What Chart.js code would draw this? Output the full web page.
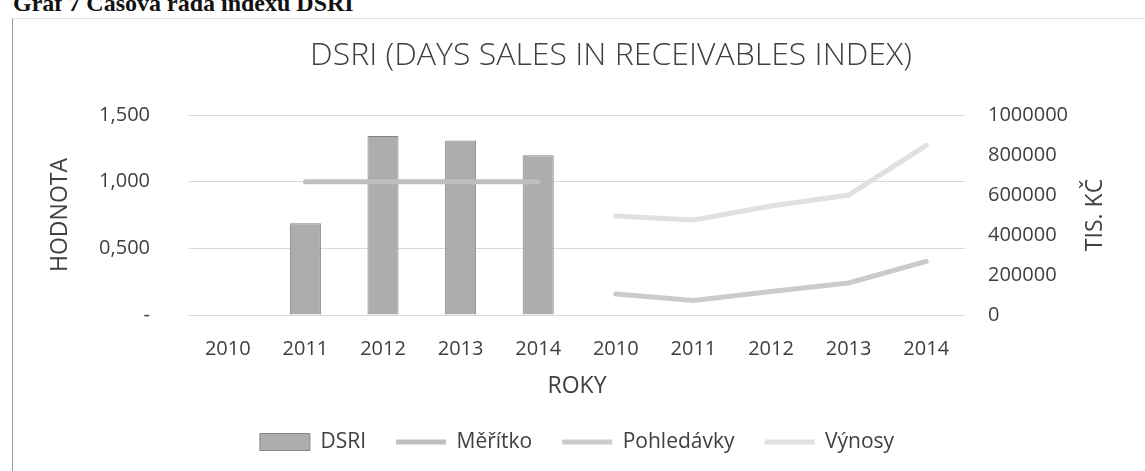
<!DOCTYPE html>
<html>
<head>
<meta charset="utf-8">
<script src="https://cdn.jsdelivr.net/npm/chart.js@4/dist/chart.umd.min.js"></script>
<style>
  html, body { margin: 0; padding: 0; background: #fff; overflow: hidden; }
  #wrap { position: relative; width: 1145px; height: 471px; }
  #head { position: absolute; left: 13px; top: -9px; font: bold 24px "Liberation Serif", serif; line-height: 24px; color: #111; white-space: nowrap; }
  #frameL { position: absolute; left: 12px; top: 18px; width: 1px; height: 460px; background: #9a9a9a; }
  #frameT { position: absolute; left: 12px; top: 18px; width: 1140px; height: 1px; background: #e2e2e2; }
  #c { position: absolute; left: 0; top: 0; }
</style>
</head>
<body>
<div id="wrap">
  <div id="head">Graf 7 Časová řada indexu DSRI</div>
  <div id="frameT"></div>
  <div id="frameL"></div>
  <canvas id="c" width="1145" height="471"></canvas>
</div>
<script>
const years = ["2010", "2011", "2012", "2013", "2014"];
const categories = years.concat(years);

// first block of years (left axis)
const dsri = [null, 0.689, 1.343, 1.309, 1.198];
const meritko = [null, 1, 1, 1, 1];

// second block of years (right axis, tis. Kč)
const pohledavky = [105000, 72000, 118000, 160000, 268000];
const vynosy = [495000, 475000, 545000, 600000, 848000];

const leftTickLabels = ["-", "0,500", "1,000", "1,500"];
const rightTickLabels = ["0", "200000", "400000", "600000", "800000", "1000000"];
const rightAxisTitle = "TIS. KČ";

const empty = years.map(() => null);

Chart.defaults.font.family = "'Open Sans', sans-serif";
Chart.defaults.color = "#404040";

// right axis title reads bottom-to-top like the left one
const rightTitle = {
  id: "rightTitle",
  afterDraw(chart) {
    const { ctx, chartArea } = chart;
    ctx.save();
    ctx.translate(1095, (chartArea.top + chartArea.bottom) / 2);
    ctx.rotate(-Math.PI / 2);
    ctx.font = "23px 'Open Sans', sans-serif";
    ctx.fillStyle = "#404040";
    ctx.textAlign = "center";
    ctx.textBaseline = "middle";
    ctx.fillText(rightAxisTitle, 0, 0);
    ctx.restore();
  }
};

new Chart(document.getElementById("c"), {
  data: {
    labels: categories,
    datasets: [
      {
        type: "bar",
        label: "DSRI",
        data: dsri.concat(empty),
        yAxisID: "y",
        backgroundColor: "#adadad",
        borderColor: "#858585",
        borderWidth: 1,
        barPercentage: 0.4,
        categoryPercentage: 1,
        pointStyle: "rect",
        order: 1
      },
      {
        type: "line",
        label: "Měřítko",
        data: meritko.concat(empty),
        yAxisID: "y",
        borderColor: "#bfbfbf",
        borderWidth: 5,
        borderCapStyle: "round",
        pointRadius: 0,
        pointStyle: "line",
        pointBorderColor: "#bfbfbf",
        pointBorderWidth: 5,
        order: 0
      },
      {
        type: "line",
        label: "Pohledávky",
        data: empty.concat(pohledavky),
        yAxisID: "y1",
        borderColor: "#cbcbcb",
        borderWidth: 5,
        borderCapStyle: "round",
        pointRadius: 0,
        pointStyle: "line",
        pointBorderColor: "#cbcbcb",
        pointBorderWidth: 5,
        order: 0
      },
      {
        type: "line",
        label: "Výnosy",
        data: empty.concat(vynosy),
        yAxisID: "y1",
        borderColor: "#e0e0e0",
        borderWidth: 5,
        borderCapStyle: "round",
        pointRadius: 0,
        pointStyle: "line",
        pointBorderColor: "#e0e0e0",
        pointBorderWidth: 5,
        order: 0
      }
    ]
  },
  options: {
    responsive: false,
    animation: false,
    layout: { padding: { left: 77, right: 0, top: 0, bottom: 8.5 } },
    plugins: {
      title: {
        display: true,
        text: "DSRI (DAYS SALES IN RECEIVABLES INDEX)",
        color: "#404040",
        font: { size: 32, weight: "300" },
        padding: { top: 36.8, bottom: 39.8 }
      },
      legend: {
        position: "bottom",
        fullSize: false,
        labels: {
          usePointStyle: true,
          pointStyleWidth: 50,
          boxHeight: 17,
          padding: 30,
          color: "#404040",
          font: { size: 21 },
          sort: (a, b) => a.datasetIndex - b.datasetIndex
        }
      },
      tooltip: { enabled: false }
    },
    scales: {
      x: {
        grid: { display: false },
        border: { display: false },
        ticks: { font: { size: 20 }, padding: 14, maxRotation: 0, autoSkip: false },
        title: { display: true, text: "ROKY", font: { size: 23 }, padding: { top: 0, bottom: 1 } },
        afterFit: (s) => { s.height = 86.5; }
      },
      y: {
        position: "left",
        min: 0,
        max: 1.5,
        ticks: {
          stepSize: 0.5,
          padding: 39,
          font: { size: 20 },
          callback: (v, i) => leftTickLabels[i]
        },
        grid: { color: "#d9d9d9", lineWidth: 1, drawTicks: false },
        border: { display: false },
        title: { display: true, text: "HODNOTA", font: { size: 23 }, padding: { top: -30.8, bottom: 0 } },
        afterFit: (s) => { s.width = 112; }
      },
      y1: {
        position: "right",
        min: 0,
        max: 1000000,
        ticks: {
          stepSize: 200000,
          padding: 23,
          font: { size: 20 },
          callback: (v, i) => rightTickLabels[i]
        },
        grid: { display: false, drawTicks: false },
        border: { display: false },
        afterFit: (s) => { s.width = 180; }
      }
    }
  },
  plugins: [rightTitle]
});
</script>
</body>
</html>
